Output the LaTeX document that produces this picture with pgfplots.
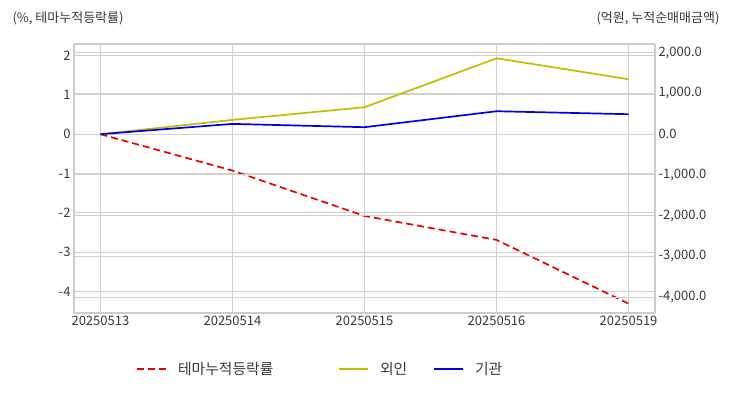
\documentclass[border=0pt]{standalone}
\usepackage{pgfplots}
\pgfplotsset{compat=1.18}
\usepackage{fontspec}
\setmainfont{Noto Sans CJK KR}
\definecolor{tickc}{RGB}{55,55,55}
\definecolor{gridc}{RGB}{208,208,208}
\definecolor{framec}{RGB}{204,204,204}
\definecolor{cred}{RGB}{235,0,0}
\definecolor{cyel}{RGB}{191,191,0}
\definecolor{cblue}{RGB}{0,0,225}
\begin{document}
\begin{tikzpicture}
\pgfplotsset{
  myaxis/.style={
    at={(0,0)}, anchor=south west,
    scale only axis, width=581pt, height=269pt,
    xmin=-0.2, xmax=4.2,
    xtick={0,1,2,3,4},
    major tick length=0pt,
    axis line style={framec, line width=1.2pt},
    grid style={gridc, line width=0.8pt},
    tick label style={font=\fontsize{13}{15}\selectfont, text=tickc},
    /pgf/number format/assume math mode=true,
  }
}
\useasboundingbox (-74pt,-79pt) rectangle (658pt,313pt);
\begin{axis}[myaxis,
  ymin=-4.549, ymax=2.295,
  ytick={-4,-3,-2,-1,0,1,2},
  xmajorgrids, ymajorgrids,
  xticklabels={20250513,20250514,20250515,20250516,20250519},
  yticklabel style={/pgf/number format/.cd, fixed, precision=0},
  axis y line*=left, axis x line*=bottom,
]
\addplot[cred, line width=1.7pt, dash pattern=on 7pt off 4pt] coordinates {(0,0) (1,-0.925) (2,-2.08) (3,-2.69) (4,-4.31)};
\end{axis}
\begin{axis}[myaxis,
  ymin=-4393, ymax=2216,
  ytick={-4000,-3000,-2000,-1000,0,1000,2000},
  ymajorgrids,
  xticklabels={},
  axis y line*=right, axis x line*=top,
  scaled y ticks=false,
  yticklabel style={/pgf/number format/.cd, fixed, fixed zerofill, precision=1, 1000 sep={,}},
  legend style={at={(axis description cs:0.107,-0.208)}, anchor=west, draw=none, fill=none,
    inner sep=0pt,
    font=\fontsize{14.8}{17}\selectfont, text=tickc,
    /tikz/every odd column/.append style={column sep=9pt},
    /tikz/every even column/.append style={column sep=24pt}},
  legend columns=3,
  legend image code/.code={\draw[#1] (0pt,0pt) -- (29pt,0pt);},
  legend cell align=left,
]
\addlegendimage{cred, line width=1.7pt, dash pattern=on 7pt off 4pt}
\addlegendentry{테마누적등락률\hspace*{39pt}}
\addplot[cyel, line width=1.7pt] coordinates {(0,0) (1,351) (2,662) (3,1865) (4,1350)};
\addlegendentry{외인}
\addplot[cblue, line width=1.7pt] coordinates {(0,0) (1,253) (2,172) (3,564) (4,491)};
\addlegendentry{기관}
\end{axis}
\node[anchor=west, text=tickc, font=\fontsize{13}{15}\selectfont] at (-65pt,295pt) {(\%, 테마누적등락률)};
\node[anchor=east, text=tickc, font=\fontsize{13}{15}\selectfont] at (649pt,295pt) {(억원, 누적순매매금액)};
\end{tikzpicture}
\end{document}
